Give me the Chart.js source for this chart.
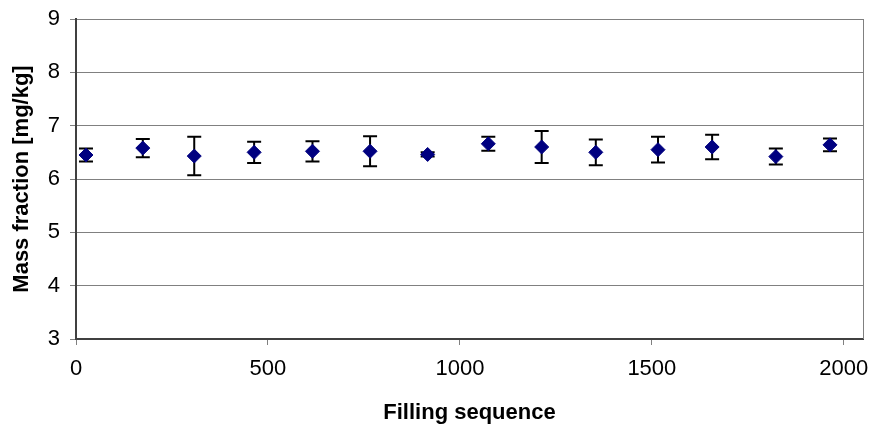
<!DOCTYPE html>
<html>
<head>
<meta charset="utf-8">
<script src="https://cdn.jsdelivr.net/npm/chart.js@4.4.1/dist/chart.umd.min.js"></script>
<style>
  html, body { margin: 0; padding: 0; background: #ffffff; }
</style>
</head>
<body>
<canvas id="myChart" width="873" height="432"></canvas>
<script>
// Filling sequence number of each sampled unit
const fillNo = [26, 174, 308, 464, 616, 766, 916, 1074, 1213, 1354, 1516, 1657, 1823, 1964];
// Mean mass fraction [mg/kg]
const massFrac = [6.45, 6.58, 6.43, 6.50, 6.52, 6.52, 6.46, 6.66, 6.60, 6.50, 6.55, 6.60, 6.42, 6.64];
// Half length of the error bars [mg/kg]
const errHalf = [0.12, 0.17, 0.36, 0.20, 0.19, 0.28, 0.04, 0.13, 0.30, 0.24, 0.24, 0.23, 0.15, 0.12];

const xTicks = [0, 500, 1000, 1500, 2000];
const yTicks = [3, 4, 5, 6, 7, 8, 9];

const points = fillNo.map((x, i) => ({ x: x, y: massFrac[i] }));

const fontFamily = '"Liberation Sans", Arial, sans-serif';

// error bars go behind the diamonds, plus the grey right edge of the plot box
const errorBars = {
  id: 'errorBars',
  beforeDatasetsDraw(chart) {
    const ctx = chart.ctx;
    const xs = chart.scales.x;
    const ys = chart.scales.y;
    const area = chart.chartArea;

    ctx.save();
    ctx.strokeStyle = '#808080';
    ctx.lineWidth = 1;
    ctx.beginPath();
    ctx.moveTo(Math.round(area.right) + 0.5, area.top);
    ctx.lineTo(Math.round(area.right) + 0.5, area.bottom);
    ctx.stroke();

    ctx.strokeStyle = '#000000';
    ctx.lineWidth = 2;
    fillNo.forEach((x, i) => {
      const px = xs.getPixelForValue(x);
      const top = ys.getPixelForValue(massFrac[i] + errHalf[i]);
      const bot = ys.getPixelForValue(massFrac[i] - errHalf[i]);
      ctx.beginPath();
      ctx.moveTo(px, top);
      ctx.lineTo(px, bot);
      ctx.moveTo(px - 7, top);
      ctx.lineTo(px + 7, top);
      ctx.moveTo(px - 7, bot);
      ctx.lineTo(px + 7, bot);
      ctx.stroke();
    });
    ctx.restore();
  }
};

const myChart = document.getElementById('myChart');

let scatterChart = new Chart(myChart, {
  type: 'scatter',
  data: {
    datasets: [{
      label: 'Mass fraction',
      data: points,
      pointStyle: 'rectRot',
      pointRadius: 7,
      pointBorderWidth: 1,
      backgroundColor: '#000080',
      borderColor: '#000080'
    }]
  },
  options: {
    responsive: false,
    animation: false,
    devicePixelRatio: 1,
    layout: { padding: { top: 19, right: 10, left: 0, bottom: 0 } },
    plugins: {
      legend: { display: false },
      tooltip: { enabled: false }
    },
    scales: {
      x: {
        type: 'linear',
        min: 0,
        max: 2050,
        afterBuildTicks: (scale) => { scale.ticks = xTicks.map(v => ({ value: v })); },
        afterFit: (scale) => {
          scale.height = 93;
          // keep the plot box where the reference has it
          scale.paddingLeft = 0;
          scale.paddingRight = 0;
        },
        grid: {
          drawOnChartArea: false,
          drawTicks: true,
          tickLength: 6,
          color: '#808080'
        },
        border: { color: '#404040', width: 2 },
        ticks: {
          color: '#000000',
          padding: 11,
          maxRotation: 0,
          callback: (value) => String(value),
          font: { family: fontFamily, size: 22 }
        },
        title: {
          display: true,
          text: 'Filling sequence',
          color: '#000000',
          padding: { top: 0, bottom: 6 },
          font: { family: fontFamily, size: 22, weight: 'bold' }
        }
      },
      y: {
        type: 'linear',
        min: 3,
        max: 9,
        afterBuildTicks: (scale) => { scale.ticks = yTicks.map(v => ({ value: v })); },
        afterFit: (scale) => {
          scale.width = 76;
          scale.paddingTop = 0;
          scale.paddingBottom = 0;
        },
        grid: {
          drawTicks: true,
          tickLength: 6,
          color: '#808080',
          lineWidth: 1
        },
        border: { color: '#404040', width: 2 },
        ticks: {
          color: '#000000',
          padding: 10,
          font: { family: fontFamily, size: 22 }
        },
        title: {
          display: true,
          text: 'Mass fraction [mg/kg]',
          color: '#000000',
          padding: { top: 9, bottom: 0 },
          font: { family: fontFamily, size: 22, weight: 'bold' }
        }
      }
    }
  },
  plugins: [errorBars]
});
</script>
</body>
</html>
